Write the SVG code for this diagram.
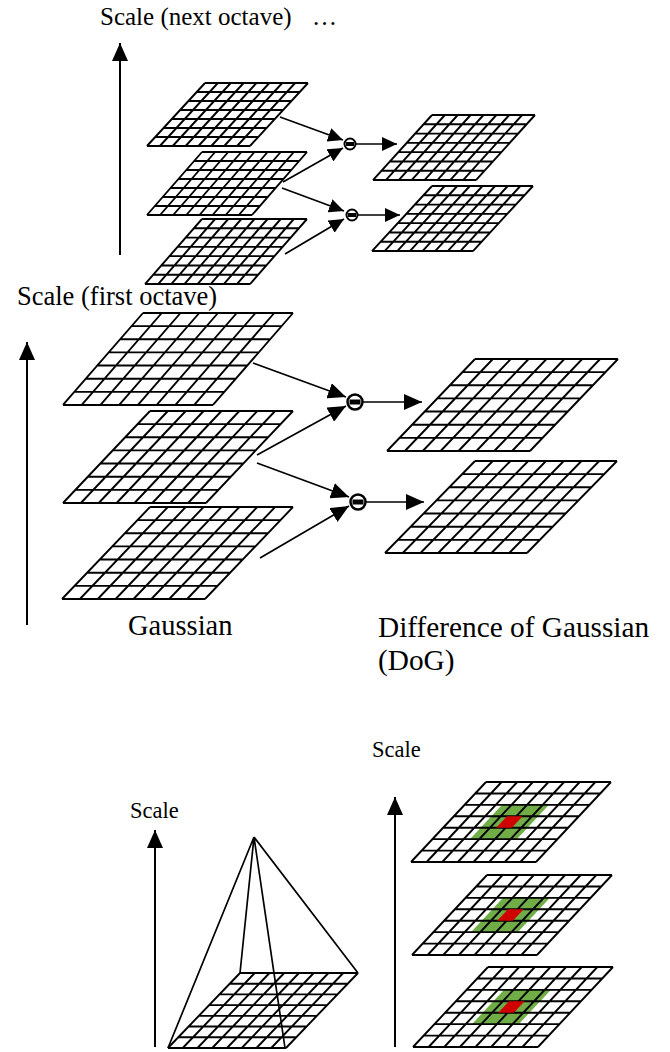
<svg xmlns="http://www.w3.org/2000/svg" xmlns:xlink="http://www.w3.org/1999/xlink" width="670" height="1052" viewBox="0 0 670 1052">
<style>
.g{fill:none;stroke:#000;stroke-width:1.9;vector-effect:non-scaling-stroke}
.ln{fill:none;stroke:#000;stroke-width:1.7}
.ax{fill:none;stroke:#000;stroke-width:2}
.t{font-family:"Liberation Serif","Times New Roman",serif;fill:#000}
.op{fill:#fff;stroke:#000}
.grn{fill:#70AD47}
.red{fill:#D00000}
</style>
<defs>
<path id="grid" class="g" d="M0 0H8M0 1H8M0 2H8M0 3H8M0 4H8M0 5H8M0 6H8M0 7H8M0 0V7M1 0V7M2 0V7M3 0V7M4 0V7M5 0V7M6 0V7M7 0V7M8 0V7"/>
<marker id="ahL" markerUnits="userSpaceOnUse" markerWidth="18" markerHeight="16" refX="18" refY="8" orient="auto"><path d="M0 0L18 8L0 16z"/></marker>
<marker id="ahS" markerUnits="userSpaceOnUse" markerWidth="15" markerHeight="14" refX="15" refY="7" orient="auto"><path d="M0 0L15 7L0 14z"/></marker>
</defs>

<g id="labels">
<text class="t" x="100" y="25" font-size="25">Scale (next octave) <tspan x="312">…</tspan></text>
<text class="t" x="17" y="305" font-size="26.5">Scale (first octave)</text>
<text class="t" x="128" y="635" font-size="28.5">Gaussian</text>
<text class="t" x="378" y="637" font-size="29.3">Difference of Gaussian</text>
<text class="t" x="378" y="670" font-size="29.3">(DoG)</text>
<text class="t" x="130" y="818" font-size="22.5">Scale</text>
<text class="t" x="372" y="757" font-size="22.5">Scale</text>
</g>

<g id="top-gauss-1"><use xlink:href="#grid" transform="matrix(12.875,0,-8.29,9,205,83)"/></g>
<g id="top-gauss-2"><use xlink:href="#grid" transform="matrix(13.125,0,-7.86,9,202,152)"/></g>
<g id="top-gauss-3"><use xlink:href="#grid" transform="matrix(13.125,0,-8.14,9.29,202,219)"/></g>
<g id="top-dog-1"><use xlink:href="#grid" transform="matrix(12.875,0,-8.43,9.29,432,115)"/></g>
<g id="top-dog-2"><use xlink:href="#grid" transform="matrix(12.625,0,-8.57,9.29,432,186)"/></g>

<g id="gauss-1"><use xlink:href="#grid" transform="matrix(18.75,0,-11.43,13.14,143,313)"/></g>
<g id="gauss-2"><use xlink:href="#grid" transform="matrix(17.875,0,-12.43,13.14,150,411)"/></g>
<g id="gauss-3"><use xlink:href="#grid" transform="matrix(17.875,0,-12.57,13.14,150,507)"/></g>
<g id="dog-1"><use xlink:href="#grid" transform="matrix(17.875,0,-12.57,13.14,475,359)"/></g>
<g id="dog-2"><use xlink:href="#grid" transform="matrix(17.75,0,-12.86,13.14,475,461)"/></g>

<g id="minus-top-1"><circle class="op" cx="350" cy="144" r="5.5" stroke-width="2"/><rect x="346" y="142" width="8" height="4"/></g>
<g id="minus-top-2"><circle class="op" cx="352" cy="215" r="5.5" stroke-width="2"/><rect x="348" y="213" width="8" height="4"/></g>
<g id="minus-1"><circle class="op" cx="355" cy="402" r="7.5" stroke-width="2.5"/><rect x="349.5" y="399.5" width="11" height="5"/></g>
<g id="minus-2"><circle class="op" cx="358" cy="502" r="7.5" stroke-width="2.5"/><rect x="352.5" y="499.5" width="11" height="5"/></g>

<g id="pyramid">
<use xlink:href="#grid" transform="matrix(14.75,0,-10.29,10.71,240,973)"/>
<path class="ln" d="M254 837L168 1048M254 837L240 973M254 837L285 1048M254 837L358 973"/>
</g>

<g id="scale-1">
<polygon class="grn" points="2.4,2 5.4,2 5.4,5 2.4,5" transform="matrix(15.625,0,-10.714,11.43,486,782)"/>
<use xlink:href="#grid" transform="matrix(15.625,0,-10.714,11.43,486,782)"/>
<polygon class="red" points="3.4,3 4.4,3 4.4,4 3.4,4" transform="matrix(15.625,0,-10.714,11.43,486,782)"/>
</g>
<g id="scale-2">
<polygon class="grn" points="2.4,2 5.4,2 5.4,5 2.4,5" transform="matrix(15.625,0,-10.714,11.43,487,875)"/>
<use xlink:href="#grid" transform="matrix(15.625,0,-10.714,11.43,487,875)"/>
<polygon class="red" points="3.4,3 4.4,3 4.4,4 3.4,4" transform="matrix(15.625,0,-10.714,11.43,487,875)"/>
</g>
<g id="scale-3">
<polygon class="grn" points="2.4,2 5.4,2 5.4,5 2.4,5" transform="matrix(15.625,0,-10.714,11.43,488,967)"/>
<use xlink:href="#grid" transform="matrix(15.625,0,-10.714,11.43,488,967)"/>
<polygon class="red" points="3.4,3 4.4,3 4.4,4 3.4,4" transform="matrix(15.625,0,-10.714,11.43,488,967)"/>
</g>

<g id="connectors">
<path class="ax" d="M120 255V43" marker-end="url(#ahL)"/>
<path class="ax" d="M27 625V342" marker-end="url(#ahL)"/>
<path class="ax" d="M155 1047V830" marker-end="url(#ahL)"/>
<path class="ax" d="M395 1047V797" marker-end="url(#ahL)"/>

<path class="ln" d="M280 117L343 140" marker-end="url(#ahS)"/>
<path class="ln" d="M283 182L343 148" marker-end="url(#ahS)"/>
<path class="ln" d="M282 188L344 211" marker-end="url(#ahS)"/>
<path class="ln" d="M285 254L344 219" marker-end="url(#ahS)"/>
<path class="ln" d="M356 144H397" marker-end="url(#ahS)"/>
<path class="ln" d="M358 215H400" marker-end="url(#ahS)"/>

<path class="ln" d="M253 363L346 397" marker-end="url(#ahL)"/>
<path class="ln" d="M257 455L346 406" marker-end="url(#ahL)"/>
<path class="ln" d="M257 463L349 497" marker-end="url(#ahL)"/>
<path class="ln" d="M260 558L349 506" marker-end="url(#ahL)"/>
<path class="ln" d="M363 402H422" marker-end="url(#ahL)"/>
<path class="ln" d="M366 502H424" marker-end="url(#ahL)"/>
</g>
</svg>
